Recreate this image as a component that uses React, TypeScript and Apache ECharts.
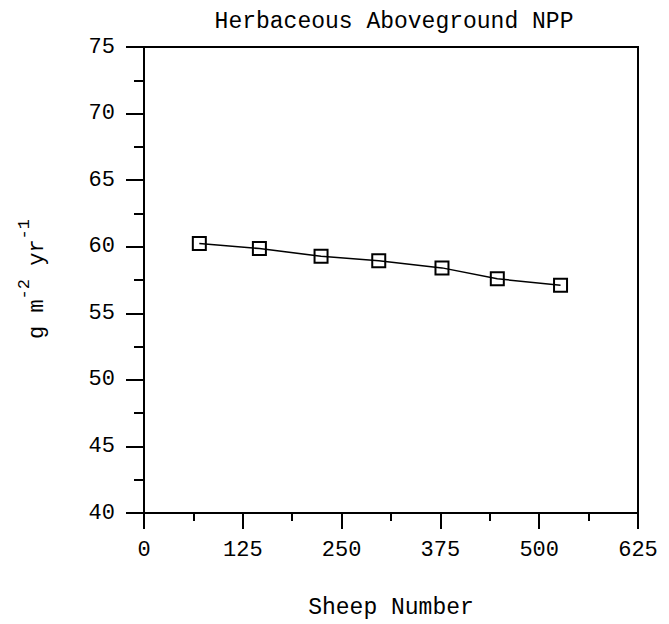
import React, { useEffect, useRef } from "react";
import * as echarts from "echarts";

const titleText = "Herbaceous Aboveground NPP";
const xAxisName = "Sheep Number";
const sheepNumber = [70, 146, 224, 297, 377, 447, 527];
const nppValues = [60.24, 59.86, 59.28, 58.94, 58.41, 57.59, 57.11];
const xTicks = { min: 0, max: 625, interval: 125 };
const yTicks = { min: 40, max: 75, interval: 5 };

const FONT = "Liberation Mono";

export default function App() {
  const ref = useRef<HTMLDivElement>(null);
  useEffect(() => {
    if (!ref.current) return;
    const chart = echarts.init(ref.current, null, { renderer: "svg" });
    const data = sheepNumber.map((x, i) => [x, nppValues[i]]);
    const axisCommon = {
      axisLine: { show: true, onZero: false, lineStyle: { color: "#000", width: 2 } },
      splitLine: { show: false },
    };
    const mainFont = `22px '${FONT}'`;
    const supFont = `17px '${FONT}'`;
    const mainAdv = 22 * 0.6;
    const supAdv = 17 * 0.6;
    chart.setOption({
      animation: false,
      backgroundColor: "#fff",
      title: {
        text: titleText,
        left: 389,
        textAlign: "center",
        top: 5,
        textStyle: { fontFamily: FONT, fontSize: 23, fontWeight: "normal", color: "#000" },
      },
      grid: { left: 144, right: 31, top: 47, bottom: 110, show: true, borderColor: "#000", borderWidth: 2, backgroundColor: "transparent" },
      xAxis: {
        type: "value",
        min: xTicks.min,
        max: xTicks.max,
        interval: xTicks.interval,
        ...axisCommon,
        axisTick: { show: true, inside: false, length: 16, lineStyle: { color: "#000", width: 2 } },
        minorTick: { show: true, splitNumber: 2, length: 8, lineStyle: { color: "#000", width: 2 } },
        axisLabel: { margin: 26, fontFamily: FONT, fontSize: 22, color: "#000" },
        name: xAxisName,
        nameLocation: "middle",
        nameGap: 83,
        nameTextStyle: { fontFamily: FONT, fontSize: 23, color: "#000", verticalAlign: "top" },
      },
      yAxis: {
        type: "value",
        min: yTicks.min,
        max: yTicks.max,
        interval: yTicks.interval,
        ...axisCommon,
        axisTick: { show: true, inside: false, length: 18, lineStyle: { color: "#000", width: 2 } },
        minorTick: { show: true, splitNumber: 2, length: 10, lineStyle: { color: "#000", width: 2 } },
        axisLabel: { margin: 29, fontFamily: FONT, fontSize: 22, color: "#000" },
      },
      graphic: [
        {
          type: "group",
          x: 48,
          y: 339,
          rotation: Math.PI / 2,
          children: [
            { type: "text", x: 0, y: 0, style: { text: "g m", font: mainFont, fill: "#000", verticalAlign: "bottom" } },
            { type: "text", x: mainAdv * 3, y: -15, style: { text: "-2", font: supFont, fill: "#000", verticalAlign: "bottom" } },
            { type: "text", x: mainAdv * 3 + supAdv * 2, y: 0, style: { text: " yr", font: mainFont, fill: "#000", verticalAlign: "bottom" } },
            { type: "text", x: mainAdv * 6 + supAdv * 2, y: -15, style: { text: "-1", font: supFont, fill: "#000", verticalAlign: "bottom" } },
          ],
        },
      ],
      series: [
        {
          type: "line",
          data,
          symbol: "rect",
          symbolSize: 13,
          showAllSymbol: true,
          lineStyle: { color: "#000", width: 1.5 },
          itemStyle: { color: "rgba(0,0,0,0)", borderColor: "#000", borderWidth: 2 },
        },
      ],
    });
    return () => chart.dispose();
  }, []);
  return <div ref={ref} style={{ width: 669, height: 624, position: "absolute", left: 0, top: 0 }} />;
}
